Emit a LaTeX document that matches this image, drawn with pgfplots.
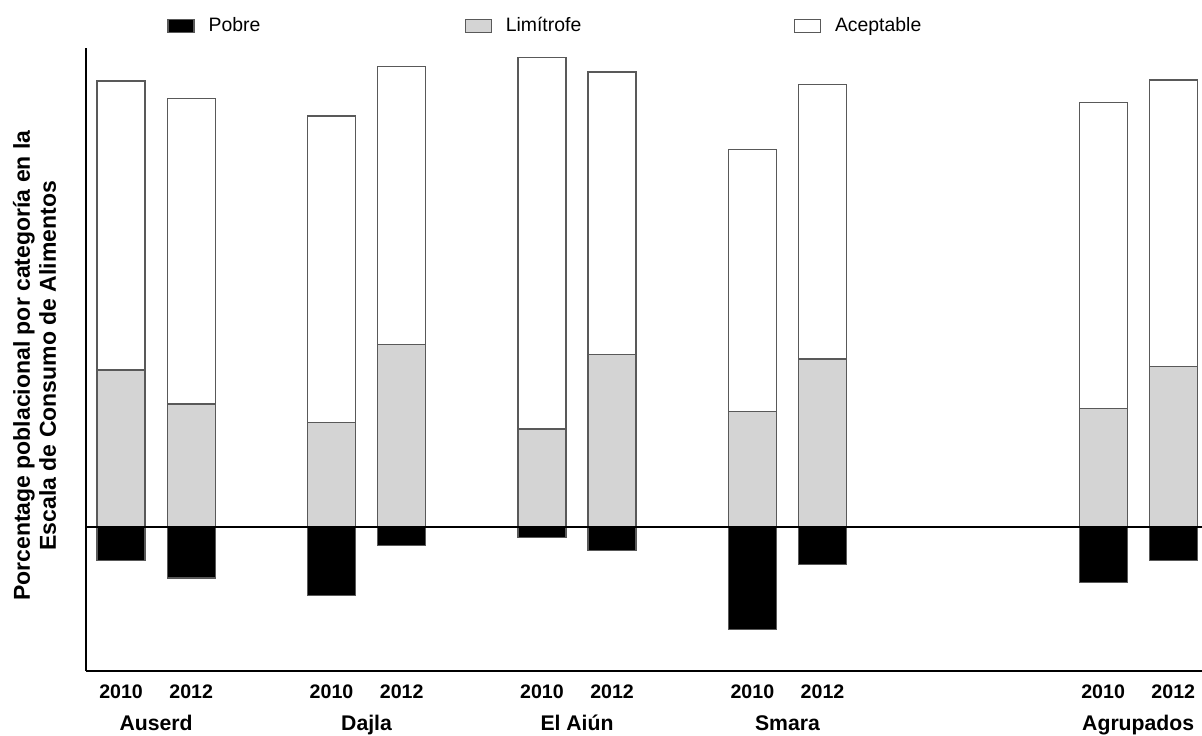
\documentclass[border=0pt]{standalone}
\usepackage{fontspec}
\setmainfont{Liberation Sans}
\usepackage{pgfplots}
\usepackage{pgfplotstable}
\pgfplotsset{compat=1.18}
\definecolor{barEdge}{gray}{0.35}
\definecolor{limGray}{gray}{0.83}
\pgfplotstableread{
x P L A
0 6.9 32.8 60.3
1 10.6 25.7 63.7
3 14.2 21.9 63.9
4 3.8 38.2 58.0
6 2.1 20.5 77.5
7 4.8 36.1 58.9
9 21.3 24.2 54.7
10 7.7 35.1 57.2
14 11.5 24.8 63.9
15 6.9 33.6 59.7
}\datatable
\begin{document}
\begin{tikzpicture}
\begin{axis}[
  scale only axis,
  width=558pt, height=311.5pt,
  xmin=-0.5, xmax=15.41,
  ymin=-30, ymax=100,
  axis x line*=bottom,
  axis y line*=left,
  axis line style={black, line width=1pt, -},
  ytick=\empty,
  xtick={0,1,3,4,6,7,9,10,14,15},
  xticklabels={2010,2012,2010,2012,2010,2012,2010,2012,2010,2012},
  extra x ticks={0.5,3.5,6.5,9.5,14.5},
  extra x tick labels={Auserd,Dajla,El Aiún,Smara,Agrupados},
  extra x tick style={tick label style={yshift=-15pt, font=\bfseries\fontsize{10.6}{12}\selectfont, text height=7.7pt, text depth=2.4pt}},
  major tick length=0pt,
  tick label style={font=\bfseries\fontsize{9.8}{11}\selectfont},
  xticklabel style={yshift=-3.5pt},
  ylabel={Porcentage poblacional por categoría en la\\Escala de Consumo de Alimentos},
  ylabel style={font=\bfseries\fontsize{11.5}{13}\selectfont, align=center, at={(axis description cs:-0.046,0.49)}, anchor=center},
  bar width=24pt,
  legend columns=3,
  legend style={draw=none, fill=none, inner sep=0pt, at={(axis description cs:0.0726,1.035)}, anchor=west,
    font=\fontsize{9.7}{11}\selectfont,
    nodes={inner sep=0pt},
    /tikz/every odd column/.append style={column sep=7pt}},
  legend image code/.code={\draw[#1, line width=0.6pt] (0pt,-3.3pt) rectangle (13pt,3.3pt);},
]
\addplot[ybar, bar shift=0pt, fill=white, draw=barEdge, line width=0.6pt, forget plot]
  table[x=x, y expr=\thisrow{L}+\thisrow{A}] {\datatable};
\addplot[ybar, bar shift=0pt, fill=black, draw=barEdge, line width=0.6pt]
  table[x=x, y expr=-\thisrow{P}] {\datatable};
\addlegendentry{\makebox[128pt][l]{Pobre}}
\addplot[ybar, bar shift=0pt, fill=limGray, draw=barEdge, line width=0.6pt]
  table[x=x, y=L] {\datatable};
\addlegendentry{\makebox[144pt][l]{Limítrofe}}
\addlegendimage{fill=white, draw=barEdge}
\addlegendentry{Aceptable}
\draw[black, line width=0.8pt] (axis cs:-0.5,0) -- (axis cs:15.41,0);
\coordinate (bl) at (rel axis cs:0,0);
\coordinate (tr) at (rel axis cs:1,1);
\end{axis}
\pgfresetboundingbox
\path[use as bounding box] ([xshift=-43pt,yshift=-32.5pt]bl) rectangle ([yshift=24pt]tr);
\end{tikzpicture}
\end{document}
